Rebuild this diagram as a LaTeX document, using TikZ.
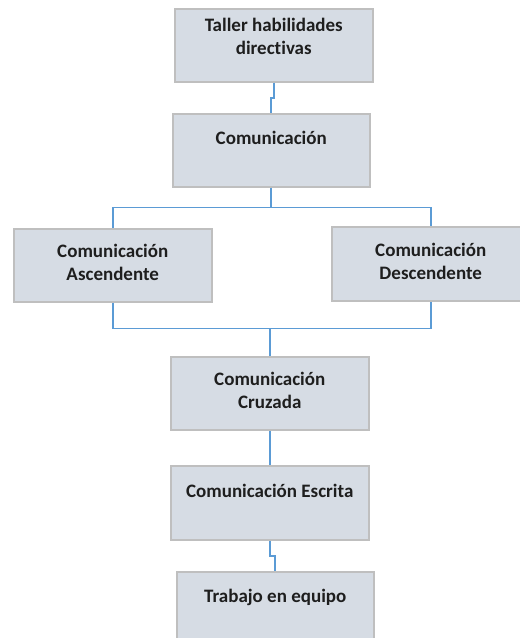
\documentclass[tikz,border=0pt]{standalone}
\usepackage{fontspec}
\setmainfont{Carlito}[Ligatures=NoCommon]
\usetikzlibrary{calc}
\definecolor{boxfill}{HTML}{D6DCE4}
\definecolor{boxline}{HTML}{BFBFBF}
\definecolor{linkblue}{HTML}{5B9BD5}
\definecolor{ink}{HTML}{1E1E1E}
\tikzset{
  stepbox/.style={draw=boxline, fill=boxfill, line width=1.5pt, inner sep=0pt,
    minimum width=198pt, minimum height=73pt, anchor=north west},
  lbl/.style={align=center, inner sep=0pt, text=ink,
    font=\fontsize{19}{23}\selectfont\bfseries,
    execute at begin node=\strut, execute at end node=\strut},
  link/.style={draw=linkblue, line width=1.8pt}
}
\begin{document}
\begin{tikzpicture}[x=1pt, y=-1pt]
  \fill[white] (0,0) rectangle (520,638);
  \clip (0,0) rectangle (520,638);

  % boxes
  \node[stepbox] (b1) at (174,8) {};
  \node[stepbox, minimum width=197pt] (b2) at (172,113) {};
  \node[stepbox] (bl) at (13,228) {};
  \node[stepbox, minimum height=74pt] (br) at (331,226) {};
  \node[stepbox] (bc) at (170,356) {};
  \node[stepbox, minimum height=74pt] (be) at (170,465) {};
  \node[stepbox, minimum width=197pt] (bt) at (176,571) {};

  % labels
  \node[lbl] (t1) at ([yshift=5pt]b1.center) {Taller habilidades\\directivas};
  \node[lbl] (t2) at ([yshift=10pt]b2.center) {Comunicación};
  \node[lbl] (tl) at ([yshift=-1pt]bl.center) {Comunicación\\Ascendente};
  \node[lbl] (tr) at ([yshift=-1pt]br.center) {Comunicación\\Descendente};
  \node[lbl] (tc) at ([yshift=-1pt]bc.center) {Comunicación\\Cruzada};
  \node[lbl] (te) at ([yshift=9.5pt]be.center) {Comunicación Escrita};
  \node[lbl] (tt) at ([yshift=10pt]bt.center) {Trabajo en equipo};

  % connectors
  \draw[link] (b1.south) |- ($(b1.south)!.5!(b2.north)$) -| (b2.north);
  \draw[link] (b2.south) -- ++(0,20) coordinate (split) -| (bl.north);
  \draw[link] (split) -| (br.north);
  \path (bl.south) ++(0,26) coordinate (jl);
  \draw[link] (bl.south) -- (jl) -| (br.south);
  \draw[link] (bc.north) -- (bc.north |- jl);
  \draw[link] (bc.south) |- ($(bc.south)!.5!(be.north)$) -| (be.north);
  \draw[link] (be.south) |- ($(be.south)!.5!(bt.north)$) -| (bt.north);
\end{tikzpicture}
\end{document}
